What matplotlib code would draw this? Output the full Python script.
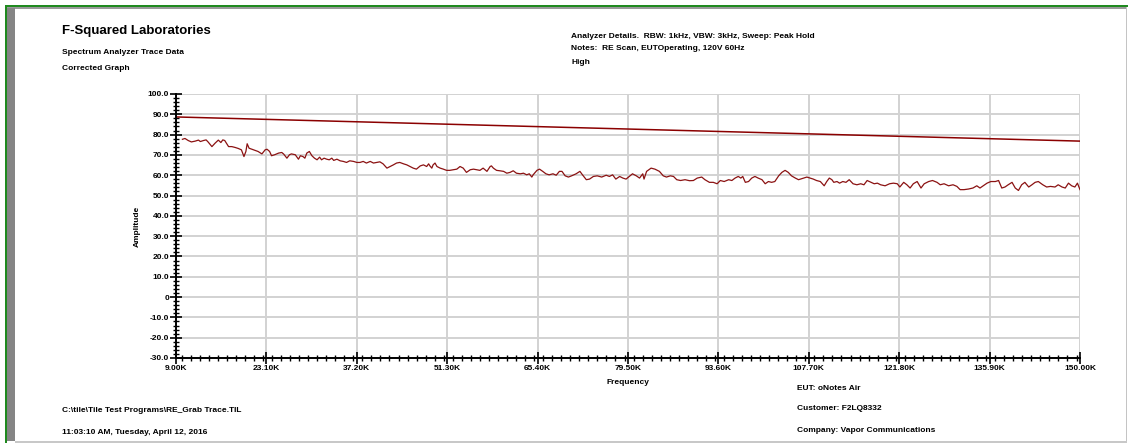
import matplotlib
matplotlib.use("Agg")
import matplotlib.pyplot as plt
from matplotlib.patches import Rectangle
from matplotlib.ticker import MultipleLocator, FixedLocator
import numpy as np

plt.rcParams['font.family'] = ['Liberation Sans', 'DejaVu Sans']

# trace (frequency in kHz, amplitude)
freq = [10.0, 10.4, 10.9, 11.4, 12.0, 12.5, 12.8, 13.3, 13.7, 14.0, 14.6, 15.1, 15.6, 16.0,
        16.3, 16.6, 17.2, 17.7, 18.2, 18.7, 19.2, 19.6, 19.9, 20.1, 20.4, 21.1, 21.8, 22.4,
        22.9, 23.2, 23.6, 23.9, 24.4, 25.0, 25.5, 25.8, 26.3, 26.7, 27.0, 27.6, 28.1, 28.4,
        28.8, 29.1, 29.4, 29.8, 30.2, 30.6, 31.0, 31.4, 31.7, 32.1, 32.5, 32.9, 33.3, 33.6,
        34.1, 34.6, 35.1, 35.6, 36.1, 36.7, 37.2, 37.7, 38.2, 38.7, 39.3, 39.8, 40.3, 40.8,
        41.3, 41.9, 42.4, 42.9, 43.4, 43.9, 44.5, 45.0, 45.5, 46.0, 46.5, 47.1, 47.6, 48.1,
        48.4, 48.6, 48.9, 49.1, 49.4, 49.7, 50.2, 50.7, 51.2, 51.7, 52.3, 52.8, 53.3, 53.8,
        54.3, 54.9, 55.4, 55.9, 56.4, 56.9, 57.5, 58.0, 58.2, 58.5, 59.0, 59.5,
        60.1, 60.6, 61.1, 61.6, 62.1, 62.7, 63.2, 63.7, 64.1, 64.5, 64.7, 65.3, 65.7, 66.2,
        66.7, 67.2, 67.8, 68.3, 68.8, 69.2, 69.7, 70.2, 70.7, 71.4, 72.0, 72.4, 73.0, 73.5,
        74.1, 74.7, 75.4, 76.1, 76.6, 77.1, 77.6, 78.2, 78.7, 79.2, 79.7, 80.2, 80.8, 81.3,
        81.8, 82.0, 82.4, 83.1, 83.7, 84.4, 85.0, 85.5, 86.1, 86.6, 87.1, 87.7, 88.4, 89.1,
        89.7, 90.3, 91.0, 91.5, 92.2, 92.8, 93.4, 93.9, 94.5, 95.2, 95.7, 96.2, 96.7, 97.1,
        97.4, 97.8, 98.3, 98.8, 99.3, 99.8, 100.4, 100.9, 101.4, 101.9, 102.4, 103.0, 103.5,
        104.0, 104.5, 105.0, 105.6, 106.1, 106.9, 107.4, 107.9, 108.4, 108.9, 109.5, 110.1,
        110.5, 110.9, 111.3, 111.6, 112.1, 112.5, 113.0, 113.5, 114.0, 114.6, 115.2, 115.8,
        116.3, 116.8, 117.4, 117.9, 118.4, 118.9, 119.6, 120.3, 120.9, 121.5, 121.9, 122.5,
        123.0, 123.5, 124.0, 124.6, 125.2, 125.7, 126.4, 127.0, 127.7, 128.2, 128.8, 129.5,
        130.2, 130.8, 131.3, 131.9, 132.6, 133.3, 133.9, 134.4, 134.9, 135.5, 136.1, 136.8,
        137.3, 137.8, 138.3, 138.8, 139.4, 139.9, 140.4, 140.9, 141.4, 142.0, 142.5, 143.0,
        143.5, 144.2, 144.8, 145.4, 146.1, 146.6, 147.2, 147.7, 148.2, 148.7, 149.2, 149.6,
        150.0]
amp = [77.7, 78.1, 77.1, 76.4, 76.8, 77.3, 76.6, 77.1, 77.4, 76.4, 74.1, 75.8, 77.3, 76.1,
       77.4, 77.1, 74.1, 74.1, 73.7, 73.2, 72.5, 69.2, 71.7, 75.5, 73.3, 72.5, 71.7, 70.5,
       72.5, 72.8, 71.7, 69.6, 70.1, 70.9, 71.2, 70.4, 68.4, 70.1, 70.5, 70.1, 67.9, 69.6,
       69.2, 68.4, 70.9, 71.7, 69.6, 68.4, 67.6, 68.9, 67.6, 68.4, 67.9, 67.6, 68.4, 67.3,
       67.9, 67.1, 66.8, 66.3, 67.1, 66.8, 66.3, 66.3, 66.8, 66.0, 66.8, 66.0, 66.3, 66.6,
       65.6, 63.5, 64.3, 65.1, 66.0, 66.3, 65.6, 65.1, 64.3, 63.5, 63.0, 64.6, 65.1, 64.3,
       65.6, 64.6, 63.5, 65.1, 66.0, 64.3, 63.5, 63.0, 62.4, 62.4, 62.7, 63.0, 64.3, 63.5,
       61.4, 62.7, 63.0, 62.7, 62.4, 63.5, 61.9, 64.3, 64.6, 63.5, 62.4, 62.2,
       61.9, 61.0, 61.4, 62.2, 61.0, 60.7, 61.0, 60.2, 60.7, 59.1, 60.2, 62.4, 63.0, 61.9,
       60.7, 60.2, 60.7, 60.0, 61.9, 61.9, 59.7, 59.1, 59.7, 60.7, 61.9, 60.2, 57.8, 58.1,
       59.4, 59.7, 59.1, 60.0, 59.4, 60.2, 58.1, 59.4, 58.6, 58.1, 59.4, 60.7, 59.7, 58.6,
       60.7, 58.1, 61.9, 63.5, 63.0, 61.9, 59.7, 59.1, 59.7, 59.4, 57.8, 57.4, 57.8, 57.3,
       57.4, 58.6, 59.1, 57.8, 56.5, 56.5, 55.8, 57.4, 56.9, 57.8, 57.4, 58.6, 59.4, 58.6,
       59.4, 56.5, 56.9, 58.6, 59.4, 58.6, 57.8, 55.8, 56.9, 56.5, 56.9, 59.7, 61.4,
       62.4, 61.4, 59.7, 58.6, 57.8, 58.6, 59.1, 58.6, 58.1, 57.4, 56.9, 54.8,
       56.9, 58.6, 57.8, 56.5, 56.9, 56.1, 56.9, 56.5, 57.8, 55.8, 55.3, 55.8,
       55.3, 57.4, 56.5, 55.8, 56.1, 55.3, 54.8, 55.8, 56.1, 55.8, 54.2, 56.5,
       55.3, 53.7, 55.8, 56.9, 53.7, 55.8, 56.9, 57.4, 56.5, 55.3, 55.8, 54.8,
       55.3, 54.5, 52.9, 52.9, 53.2, 53.7, 54.8, 53.7, 54.8, 56.1, 56.9, 56.9,
       57.4, 53.7, 54.2, 55.3, 56.5, 53.7, 52.5, 55.3, 56.5, 54.2, 55.3, 56.5,
       56.9, 55.3, 54.2, 54.5, 54.2, 55.3, 54.2, 53.7, 56.1, 54.8, 54.2, 56.1,
       52.9]

# straight reference line
ref_freq = [9.0, 150.0]
ref_amp = [88.7, 76.8]

xticks = [9.0, 23.1, 37.2, 51.3, 65.4, 79.5, 93.6, 107.7, 121.8, 135.9, 150.0]
xlabels = ["9.00K", "23.10K", "37.20K", "51.30K", "65.40K", "79.50K", "93.60K",
           "107.70K", "121.80K", "135.90K", "150.00K"]
yticks = list(range(-30, 101, 10))
ylabels = ["0" if v == 0 else "%.1f" % v for v in yticks]

W, H = 1128, 443
fig = plt.figure(figsize=(W / 100, H / 100), dpi=100)
fig.patch.set_facecolor("white")


def box(x, y, w, h, color):
    fig.add_artist(Rectangle((x / W, 1 - (y + h) / H), w / W, h / H,
                             transform=fig.transFigure, color=color, lw=0))


def txt(x, y, s, **kw):
    kw.setdefault("fontsize", 6)
    kw.setdefault("fontweight", "bold")
    kw.setdefault("va", "center")
    fig.text(x / W, 1 - y / H, s, **kw)


# frame
box(5, 5, 1123, 1.8, "#1f8a1f")
box(5, 5, 1.8, 438, "#1f8a1f")
box(7, 7.2, 1120, 2.2, "#9a9a9a")
box(7, 8, 8.3, 433, "#858585")
box(1125.6, 7.2, 1.8, 436, "#c4c4c4")
box(15, 441, 1112, 1.5, "#c8c8c8")

ax = fig.add_axes([176 / W, 1 - 358 / H, (1080 - 176) / W, (358 - 94) / H])
ax.plot(ref_freq, ref_amp, color="#8b0000", lw=1.1)
ax.plot(freq, amp, color="#8b1212", lw=0.9)

ax.set_xlim(9, 150)
ax.set_ylim(-30, 100)
ax.xaxis.set_major_locator(FixedLocator(xticks))
ax.set_xticklabels(xlabels)
ax.xaxis.set_minor_locator(MultipleLocator(1.41))
ax.yaxis.set_major_locator(FixedLocator(yticks))
ax.set_yticklabels(ylabels)
ax.yaxis.set_minor_locator(MultipleLocator(2))
ax.grid(True, which="major", color="#d2d2d2", lw=1.4)
ax.set_axisbelow(True)
for s in ["top", "right"]:
    ax.spines[s].set_visible(False)
for s in ["left", "bottom"]:
    ax.spines[s].set_linewidth(1.4)
ax.tick_params(which="major", direction="inout", length=8, width=1.2,
               labelsize=6, pad=1)
ax.tick_params(which="minor", direction="inout", length=5, width=1)
for lab in ax.get_xticklabels() + ax.get_yticklabels():
    lab.set_fontweight("bold")
ax.set_xlabel("Frequency", fontsize=6, fontweight="bold", labelpad=5)
ax.set_ylabel("Amplitude", fontsize=6, fontweight="bold", labelpad=5)

txt(62, 31, "F-Squared Laboratories", fontsize=9.5)
txt(62, 52, "Spectrum Analyzer Trace Data")
txt(62, 69, "Corrected Graph")
txt(571, 36, "Analyzer Details.  RBW: 1kHz, VBW: 3kHz, Sweep: Peak Hold")
txt(571, 49, "Notes:  RE Scan, EUTOperating, 120V 60Hz")
txt(571, 62, "High")
txt(797, 388, "EUT: oNotes Air")
txt(797, 409, "Customer: F2LQ8332")
txt(797, 431, "Company: Vapor Communications")
txt(62, 410, "C:\\tile\\Tile Test Programs\\RE_Grab Trace.TIL")
txt(62, 432, "11:03:10 AM, Tuesday, April 12, 2016")

fig.savefig("out.png", dpi=100)
